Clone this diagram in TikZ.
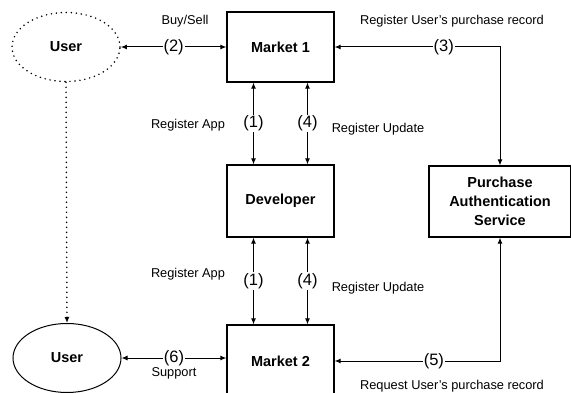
\documentclass[tikz,border=0pt]{standalone}
\usepackage{fontspec}
\setmainfont{Liberation Sans}
\usetikzlibrary{shapes.geometric,arrows.meta}
\begin{document}
\begin{tikzpicture}[x=1pt,y=-1pt,
  box/.style={draw,line width=1.2pt,minimum width=107pt,font=\fontsize{14.5}{19}\selectfont\bfseries,align=center,inner sep=0pt},
  usr/.style={ellipse,line width=1pt,minimum width=108pt,minimum height=69pt,font=\fontsize{14.5}{17}\selectfont\bfseries},
  arr/.style={line width=1pt,{Latex[length=6pt,width=5pt]}-{Latex[length=6pt,width=5pt]}},
  num/.style={fill=white,inner sep=1pt,font=\fontsize{16.5}{18}\selectfont},
  lbl/.style={font=\fontsize{12.8}{14}\selectfont},
  dots/.style={line width=1.7pt,dash pattern=on 0pt off 5pt,line cap=round}]
\clip (0,0) rectangle (571,393);
\node[usr,draw,dots] (user1) at (66,47) {User};
\node[usr,draw] (user2) at (67,358) {User};
\node[box,minimum height=70pt] (market1) at (280.5,47) {Market 1};
\node[box,minimum height=72pt] (dev) at (280.5,201) {Developer};
\node[box,minimum height=72pt] (market2) at (280.5,361) {Market 2};
\node[box,minimum width=142pt,minimum height=71pt] (pas) at (500,201.5) {Purchase\\Authentication\\Service};
\draw[arr] (user1.east) -- node[num] {(2)} (market1.west);
\draw[arr] (user2.east) -- node[num] {(6)} (user2.east -| market2.west);
\draw[arr] ([xshift=-27pt]market1.south) -- node[num] {(1)} ([xshift=-27pt]dev.north);
\draw[arr] ([xshift=27pt]market1.south) -- node[num] {(4)} ([xshift=27pt]dev.north);
\draw[arr] ([xshift=-27pt]dev.south) -- node[num] {(1)} ([xshift=-27pt]market2.north);
\draw[arr] ([xshift=27pt]dev.south) -- node[num] {(4)} ([xshift=27pt]market2.north);
\draw[arr] (market1.east) -| node[num,pos=0.33] {(3)} (pas.north);
\draw[arr] (market2.east) -| node[num,pos=0.3] {(5)} (pas.south);
\draw[dots,-{Latex[length=6pt,width=5pt]}] (user1.south) -- (user2.north);
\node[lbl] (buy) at (185,21) {Buy/Sell};
\node[lbl] (sup) at (174,373) {Support};
\node[lbl] (regapp1) at (188,125) {Register App};
\node[lbl] (regapp2) at (188,274) {Register App};
\node[lbl] (regupd1) at (378,129) {Register Update};
\node[lbl] (regupd2) at (378,288) {Register Update};
\node[lbl] (regrec) at (452,21) {Register User's purchase record};
\node[lbl] (reqrec) at (452,386) {Request User's purchase record};
\end{tikzpicture}
\end{document}
